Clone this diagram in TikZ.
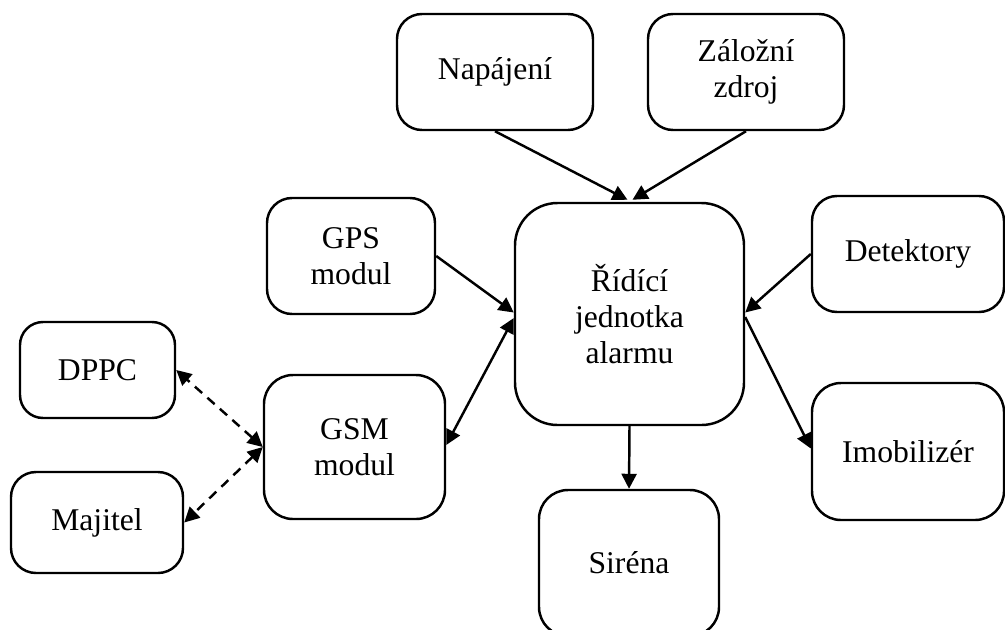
\documentclass[tikz,border=0pt]{standalone}
\usepackage{fontspec}
\setmainfont{Liberation Serif}
\usetikzlibrary{arrows.meta}

\tikzset{
	blok/.style={draw, line width=1.4pt, rounded corners=0.5cm, align=center, inner sep=0pt,
		font=\fontsize{18}{20.5}\selectfont},
	spoj/.style={line width=1.4pt},
	radio/.style={line width=1.4pt, dash pattern=on 5.5pt off 4pt}
}

\begin{document}
\begin{tikzpicture}[>={Triangle[length=0.3cm,width=0.3cm]}]
			\clip (0,0) rectangle (20.1,-12.58);
			% napajeni a zalozni zdroj
			\draw (9.9,-1.44) node [blok,minimum width=3.92cm,minimum height=2.32cm] (napajeni) {Napájení};
			\draw (14.92,-1.44) node [blok,minimum width=3.92cm,minimum height=2.32cm] (zalozni) {Záložní\\zdroj};
			% ridici jednotka uprostred
			\draw (12.59,-6.28) node [blok,minimum width=4.58cm,minimum height=4.44cm,rounded corners=0.85cm] (ridici) {Řídící\\jednotka\\alarmu};
			\draw (7.02,-5.12) node [blok,minimum width=3.36cm,minimum height=2.32cm] (gps) {GPS\\modul};
			\draw (7.09,-8.94) node [blok,minimum width=3.62cm,minimum height=2.88cm,rounded corners=0.58cm] (gsm) {GSM\\modul};
			\draw (18.16,-5.08) node [blok,minimum width=3.84cm,minimum height=2.32cm] (detektory) {Detektory};
			\draw (18.16,-9.03) node [blok,minimum width=3.84cm,minimum height=2.74cm,rounded corners=0.58cm] (imobilizer) {Imobilizér};
			\draw (12.58,-11.26) node [blok,minimum width=3.6cm,minimum height=2.92cm,rounded corners=0.58cm] (sirena) {Siréna};
			% vzdalene strany
			\draw (1.95,-7.4) node [blok,minimum width=3.1cm,minimum height=1.92cm,rounded corners=0.46cm] (dppc) {DPPC};
			\draw (1.94,-10.45) node [blok,minimum width=3.44cm,minimum height=2.02cm] (majitel) {Majitel};
			\path[spoj,->]
				(napajeni.south) edge ([xshift=-0.04cm,yshift=0.04cm]ridici.north)
				(zalozni.south) edge ([xshift=0.06cm,yshift=0.04cm]ridici.north)
				(gps.east) edge ([yshift=0.03cm]ridici.west)
				(detektory.west) edge ([yshift=0.03cm]ridici.east)
				([yshift=-0.06cm]ridici.east) edge ([yshift=0.06cm]imobilizer.west)
				(ridici.south) edge (sirena.north);
			\path[spoj,<->]
				([yshift=0.04cm]gsm.east) edge ([yshift=-0.08cm]ridici.west);
			\path[radio,<->]
				(gsm.west) edge (dppc.east)
					edge (majitel.east);
		\end{tikzpicture}
\end{document}
